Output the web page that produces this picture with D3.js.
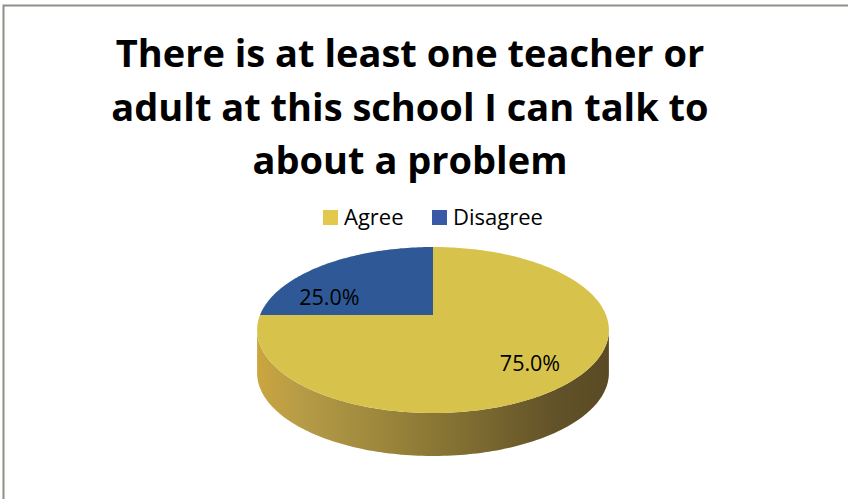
<!DOCTYPE html>
<html>
<head>
<meta charset="utf-8">
<script src="https://cdn.jsdelivr.net/npm/d3@7"></script>
<style>
body { margin: 0; background: #fff; }
svg { display: block; }
</style>
</head>
<body>
<script>
// Data
var categories = ["Agree", "Disagree"];
var values = [75, 25];
var titleLines = ["There is at least one teacher or", "adult at this school I can talk to", "about a problem"];

// Layout
var w = 848, h = 499;
var cx = 433, cy = 315;      // apex of the pie (projected centre)
var A = 173, B = 80.3, k = -0.1807;   // perspective of the top face
var depth = 43;
var topColors = ["#d7c34b", "#2f5996"];
var legendColors = ["#e2c94b", "#3a58a8"];
var font = "'Open Sans', Lato, sans-serif";

var svg = d3.select("body").append("svg")
    .attr("width", w)
    .attr("height", h);

// chart frame (only top and left show)
svg.append("path")
    .attr("d", "M3.5," + h + "V5.5H" + w)
    .attr("fill", "none")
    .attr("stroke", "#8f8f87")
    .attr("stroke-width", 2);

// Title
svg.append("g").selectAll("text")
    .data(titleLines)
    .enter().append("text")
    .attr("x", 410)
    .attr("y", function (d, i) { return 67 + i * 53.5; })
    .attr("text-anchor", "middle")
    .attr("font-family", font)
    .attr("font-weight", "bold")
    .attr("font-size", 38)
    .attr("fill", "#000")
    .text(function (d) { return d; });

// Legend
var legend = svg.append("g");
var lx = [323, 432];
categories.forEach(function (c, i) {
    legend.append("rect")
        .attr("x", lx[i]).attr("y", 210)
        .attr("width", 15).attr("height", 15)
        .attr("fill", legendColors[i]);
    legend.append("text")
        .attr("x", lx[i] + 21).attr("y", 224.5)
        .attr("font-family", font)
        .attr("font-size", 22)
        .attr("fill", "#000")
        .text(c);
});

// projection of a point on the disc (angle a clockwise from 12 o'clock, radius fraction r)
function project(a, r, dz) {
    var u = r * Math.sin(a), v = -r * Math.cos(a);
    var s = 1 / (1 + k * v);
    return [cx + A * u * s, cy + B * v * s + (dz || 0)];
}

function arcPoints(a0, a1, r, dz) {
    var n = Math.max(2, Math.ceil(Math.abs(a1 - a0) / 0.02));
    return d3.range(n + 1).map(function (i) {
        return project(a0 + (a1 - a0) * i / n, r, dz);
    });
}

var pie = d3.pie().sort(null).value(function (d) { return d; });
var arcs = pie(values);

var line = d3.line();

// side wall: front half between the two silhouette points
var aR = Math.acos(k), aL = 2 * Math.PI - aR;
var pL = project(aL, 1), pR = project(aR, 1);

var defs = svg.append("defs");
var grad = defs.append("linearGradient")
    .attr("id", "side")
    .attr("gradientUnits", "userSpaceOnUse")
    .attr("x1", pL[0]).attr("x2", pR[0])
    .attr("y1", 0).attr("y2", 0);
[["0%", "#cba53f"], ["12%", "#b79c47"], ["35%", "#9c873b"], ["60%", "#7f6d31"], ["85%", "#625228"], ["100%", "#5a4a24"]]
    .forEach(function (s) {
        grad.append("stop").attr("offset", s[0]).attr("stop-color", s[1]);
    });

arcs.forEach(function (d, i) {
    var a0 = Math.max(d.startAngle, aR), a1 = Math.min(d.endAngle, aL);
    if (a1 <= a0) return;
    var top = arcPoints(a0, a1, 1, 0);
    var bot = arcPoints(a1, a0, 1, depth);
    svg.append("path")
        .attr("d", line(top.concat(bot)) + "Z")
        .attr("fill", "url(#side)");
});

// top face
svg.append("g").selectAll("path")
    .data(arcs)
    .enter().append("path")
    .attr("d", function (d) {
        return line([[cx, cy]].concat(arcPoints(d.startAngle, d.endAngle, 1, 0))) + "Z";
    })
    .attr("fill", function (d, i) { return topColors[i]; });

// data labels
var total = d3.sum(values);
var nudge = [[0, 3], [-23, 20]];
svg.append("g").selectAll("text")
    .data(arcs)
    .enter().append("text")
    .attr("x", function (d, i) {
        return project((d.startAngle + d.endAngle) / 2, 0.72)[0] + nudge[i][0];
    })
    .attr("y", function (d, i) {
        return project((d.startAngle + d.endAngle) / 2, 0.72)[1] + nudge[i][1];
    })
    .attr("dy", "0.35em")
    .attr("text-anchor", "middle")
    .attr("font-family", font)
    .attr("font-size", 21.5)
    .attr("fill", "#000")
    .text(function (d) { return (d.value / total * 100).toFixed(1) + "%"; });
</script>
</body>
</html>
